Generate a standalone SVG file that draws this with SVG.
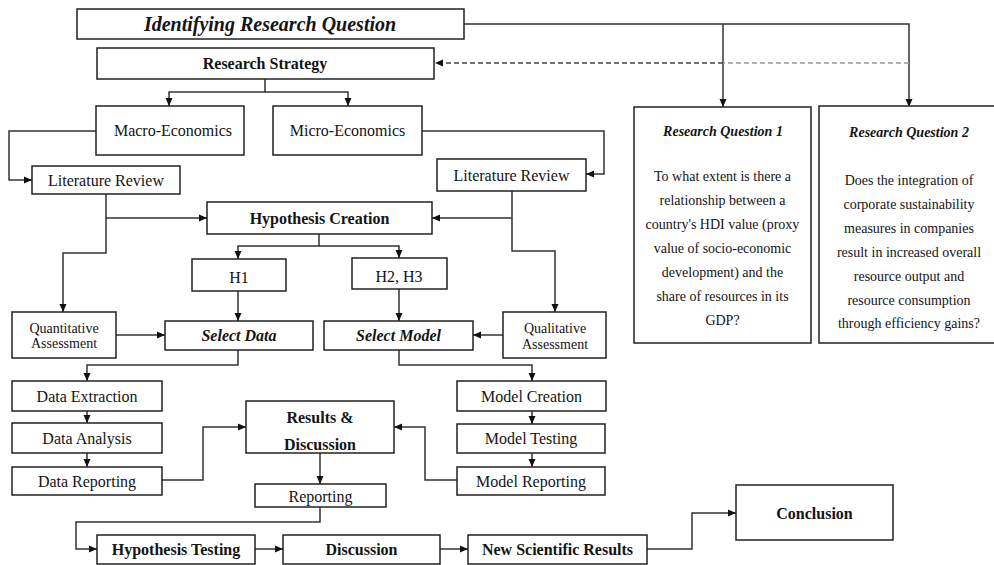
<svg xmlns="http://www.w3.org/2000/svg" width="994" height="565" viewBox="0 0 994 565">
<defs>
<marker id="arr" markerUnits="userSpaceOnUse" markerWidth="8" markerHeight="8" refX="8" refY="4" orient="auto">
<path d="M0,0.5 L8,4 L0,7.5 z" fill="#111"/>
</marker>
<style>
rect{fill:#fff;stroke:#222;stroke-width:1.5}
text{font-family:"Liberation Serif","Times New Roman",serif;fill:#141414;text-anchor:middle;dominant-baseline:central;font-size:16px}
.b{font-weight:bold}
.bi{font-weight:bold;font-style:italic}
.s{font-size:14px}
.c path{fill:none;stroke:#333;stroke-width:1.5}
.c .a{marker-end:url(#arr)}
</style>
</defs>
<rect x="0" y="0" width="994" height="565" style="fill:#fff;stroke:none"/>
<g class="c" id="connectors">
<path d="M464,24 H909 V107" class="a"/>
<path d="M723,24 V107" class="a"/>
<path d="M909,63 H723" style="stroke:#999;stroke-dasharray:5,3"/>
<path d="M723,63 H435" class="a" style="stroke:#444;stroke-dasharray:5,3"/>
<path d="M265,79 V92 H169 V106" class="a"/>
<path d="M265,92 H348 V106" class="a"/>
<path d="M96,131 H9 V180 H32" class="a"/>
<path d="M422,131 H604 V174 H586" class="a"/>
<path d="M106,194 V218 H207" class="a"/>
<path d="M106,218 V253 H63 V312" class="a"/>
<path d="M512,191 V218 H432" class="a"/>
<path d="M512,218 V251 H555 V312" class="a"/>
<path d="M319,234 V246 H238 V259" class="a"/>
<path d="M319,246 H399 V258" class="a"/>
<path d="M238,291 V321" class="a"/>
<path d="M399,289 V321" class="a"/>
<path d="M116,335 H165" class="a"/>
<path d="M503,335 H473" class="a"/>
<path d="M238,350 V365 H87 V381" class="a"/>
<path d="M399,350 V365 H532 V381" class="a"/>
<path d="M87,411 V423" class="a"/>
<path d="M87,453 V467" class="a"/>
<path d="M532,411 V424" class="a"/>
<path d="M532,453 V467" class="a"/>
<path d="M162,480 H203 V427 H246" class="a"/>
<path d="M457,480 H425 V427 H394" class="a"/>
<path d="M320,453 V484" class="a"/>
<path d="M320,507 V522 H76 V549 H97" class="a"/>
<path d="M255,549 H283" class="a"/>
<path d="M440,549 H468" class="a"/>
<path d="M647,549 H692 V513 H736" class="a"/>
</g>
<g id="identify"><rect x="77" y="9" width="387" height="30"/><text x="270" y="24" class="bi" style="font-size:20px">Identifying Research Question</text></g>
<g id="strategy"><rect x="97" y="48" width="337" height="31"/><text x="265" y="63.5" class="b">Research Strategy</text></g>
<g id="macro"><rect x="96" y="106" width="148" height="49"/><text x="173" y="130">Macro-Economics</text></g>
<g id="micro"><rect x="273" y="106" width="149" height="49"/><text x="347.5" y="130">Micro-Economics</text></g>
<g id="litL"><rect x="32" y="166" width="148" height="28"/><text x="106" y="180">Literature Review</text></g>
<g id="litR"><rect x="437" y="159" width="149" height="32"/><text x="511.5" y="175">Literature Review</text></g>
<g id="hypo"><rect x="207" y="202" width="225" height="32"/><text x="319.5" y="218.5" class="b">Hypothesis Creation</text></g>
<g id="h1"><rect x="192" y="259" width="94" height="32"/><text x="239" y="277">H1</text></g>
<g id="h23"><rect x="352" y="258" width="95" height="31"/><text x="399" y="276">H2, H3</text></g>
<g id="quant"><rect x="12" y="312" width="104" height="46"/><text x="64" y="328" class="s">Quantitative</text><text x="64" y="343" class="s">Assessment</text></g>
<g id="selData"><rect x="165" y="321" width="148" height="29"/><text x="239" y="335.5" class="bi">Select Data</text></g>
<g id="selModel"><rect x="324" y="321" width="149" height="29"/><text x="398.5" y="335.5" class="bi">Select Model</text></g>
<g id="qual"><rect x="503" y="312" width="103" height="46"/><text x="555" y="328" class="s">Qualitative</text><text x="555" y="344" class="s">Assessment</text></g>
<g id="rq1"><rect x="634" y="107" width="177" height="236"/>
<text x="723" y="131" class="bi s">Research Question 1</text>
<text x="722.5" y="176" class="s">To what extent is there a</text>
<text x="722.5" y="200" class="s">relationship between a</text>
<text x="722.5" y="224" class="s">country's HDI value (proxy</text>
<text x="722.5" y="248" class="s">value of socio-economic</text>
<text x="722.5" y="272" class="s">development) and the</text>
<text x="722.5" y="296" class="s">share of resources in its</text>
<text x="722.5" y="320" class="s">GDP?</text></g>
<g id="rq2"><rect x="819" y="106" width="180" height="237"/>
<text x="909" y="132" class="bi s">Research Question 2</text>
<text x="909" y="180" class="s">Does the integration of</text>
<text x="909" y="204" class="s">corporate sustainability</text>
<text x="909" y="228" class="s">measures in companies</text>
<text x="909" y="252" class="s">result in increased overall</text>
<text x="909" y="276" class="s">resource output and</text>
<text x="909" y="300" class="s">resource consumption</text>
<text x="909" y="323" class="s">through efficiency gains?</text></g>
<g id="dataExt"><rect x="12" y="381" width="150" height="30"/><text x="87" y="396">Data Extraction</text></g>
<g id="dataAna"><rect x="12" y="423" width="150" height="30"/><text x="87" y="438">Data Analysis</text></g>
<g id="dataRep"><rect x="12" y="467" width="150" height="28"/><text x="87" y="481">Data Reporting</text></g>
<g id="modCre"><rect x="457" y="381" width="149" height="30"/><text x="531.5" y="396">Model Creation</text></g>
<g id="modTest"><rect x="457" y="424" width="148" height="29"/><text x="531" y="438">Model Testing</text></g>
<g id="modRep"><rect x="457" y="467" width="148" height="28"/><text x="531" y="481">Model Reporting</text></g>
<g id="results"><rect x="246" y="401" width="148" height="52"/><text x="320" y="417" class="b">Results &amp;</text><text x="320" y="444" class="b">Discussion</text></g>
<g id="reporting"><rect x="255" y="484" width="131" height="23"/><text x="320.5" y="496">Reporting</text></g>
<g id="hypTest"><rect x="97" y="535" width="158" height="29"/><text x="176" y="549.5" class="b">Hypothesis Testing</text></g>
<g id="discussion"><rect x="283" y="535" width="157" height="29"/><text x="361.5" y="549.5" class="b">Discussion</text></g>
<g id="newRes"><rect x="468" y="535" width="179" height="29"/><text x="557.5" y="549.5" class="b">New Scientific Results</text></g>
<g id="conclusion"><rect x="736" y="485" width="157" height="55"/><text x="814.5" y="513" class="b">Conclusion</text></g>
</svg>
